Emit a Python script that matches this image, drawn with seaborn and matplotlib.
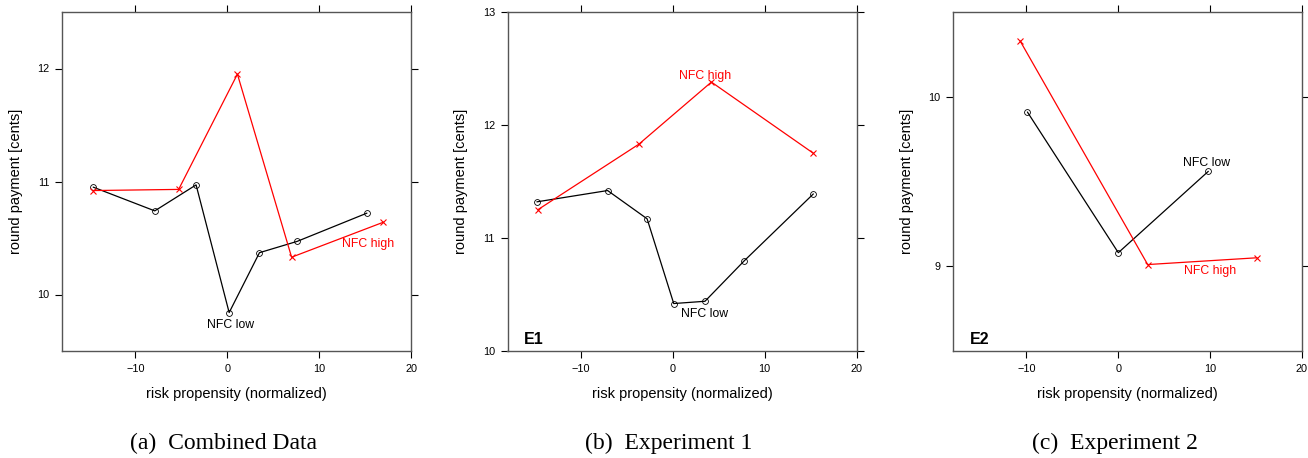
"""Round payment vs. risk propensity, split by NFC group (three panels)."""

import matplotlib
matplotlib.use("Agg")
import matplotlib.pyplot as plt
import pandas as pd
import seaborn as sns

# ---- data ----------------------------------------------------------------
# (a) combined data
comb_low_x = [-14.6, -7.9, -3.4, 0.2, 3.5, 7.6, 15.2]
comb_low_y = [10.95, 10.74, 10.97, 9.84, 10.37, 10.47, 10.72]
comb_high_x = [-14.6, -5.3, 1.1, 7.0, 17.0]
comb_high_y = [10.92, 10.93, 11.95, 10.33, 10.64]

# (b) experiment 1
e1_low_x = [-14.8, -7.1, -2.8, 0.1, 3.5, 7.8, 15.3]
e1_low_y = [11.32, 11.42, 11.17, 10.42, 10.44, 10.80, 11.39]
e1_high_x = [-14.7, -3.7, 4.2, 15.3]
e1_high_y = [11.25, 11.83, 12.38, 11.75]

# (c) experiment 2
e2_low_x = [-9.9, 0.0, 9.8]
e2_low_y = [9.91, 9.08, 9.56]
e2_high_x = [-10.7, 3.2, 15.1]
e2_high_y = [10.33, 9.01, 9.05]

captions = ["(a)\u2002Combined Data", "(b)\u2002Experiment 1", "(c)\u2002Experiment 2"]
corner_tags = [None, "E1", "E2"]

sns.set_style("white")
plt.rcParams["font.family"] = ["Liberation Sans", "DejaVu Sans"]
plt.rcParams.update({
    "text.color": "black",
    "axes.labelcolor": "black",
    "xtick.color": "black",
    "ytick.color": "black",
})

fig = plt.figure(figsize=(13.08, 4.58), dpi=100)
W, H = 1308.0, 458.0

panels = [
    dict(left=62, low=(comb_low_x, comb_low_y), high=(comb_high_x, comb_high_y),
         ylim=(9.5, 12.5), yticks=[10, 11, 12],
         high_lab=(15.3, 10.45), low_lab=(0.4, 9.73)),
    dict(left=507.5, low=(e1_low_x, e1_low_y), high=(e1_high_x, e1_high_y),
         ylim=(10, 13), yticks=[10, 11, 12, 13],
         high_lab=(3.5, 12.43), low_lab=(3.5, 10.33)),
    dict(left=953, low=(e2_low_x, e2_low_y), high=(e2_high_x, e2_high_y),
         ylim=(8.5, 10.5), yticks=[9, 10],
         high_lab=(10.0, 8.97), low_lab=(9.6, 9.61)),
]

box_w, box_h, box_top = 349, 339, 12

for i, p in enumerate(panels):
    ax = fig.add_axes([p["left"] / W, 1 - (box_top + box_h) / H, box_w / W, box_h / H])

    low = pd.DataFrame({"x": p["low"][0], "y": p["low"][1]})
    high = pd.DataFrame({"x": p["high"][0], "y": p["high"][1]})
    sns.lineplot(data=low, x="x", y="y", ax=ax, sort=False, color="black",
                 linewidth=0.9, marker="o", markersize=4.2, markerfacecolor="none",
                 markeredgecolor="black", markeredgewidth=0.6)
    sns.lineplot(data=high, x="x", y="y", ax=ax, sort=False, color="#ff0000",
                 linewidth=0.9, marker="x", markersize=4, markeredgecolor="#ff0000",
                 markeredgewidth=0.8)

    ax.set_xlim(-18, 20)
    ax.set_ylim(*p["ylim"])
    ax.set_xticks([-10, 0, 10, 20])
    ax.set_xticklabels(["\u221210", "0", "10", "20"])
    ax.set_yticks(p["yticks"])

    ax.text(*p["high_lab"], "NFC high", color="#ff0000", fontsize=8.8,
            ha="center", va="center")
    ax.text(*p["low_lab"], "NFC low", color="black", fontsize=8.8,
            ha="center", va="center")
    if corner_tags[i]:
        ax.text(0.047, 0.033, corner_tags[i], transform=ax.transAxes,
                fontsize=11.5, fontweight="bold", ha="left", va="center")

    for sp in ax.spines.values():
        sp.set_visible(True)
        sp.set_color("#555555")
        sp.set_linewidth(1.0)
    ax.tick_params(axis="both", direction="out", length=5, width=0.8,
                   color="black", labelsize=7.8, pad=4,
                   top=True, right=True, bottom=True, left=True,
                   labeltop=False, labelright=False)

    ax.set_xlabel("risk propensity (normalized)", fontsize=10.5)
    ax.set_ylabel("round payment [cents]", fontsize=10.5)
    ax.xaxis.set_label_coords(0.5, -0.105)
    ax.yaxis.set_label_coords(-0.112, 0.5)

    cx = (p["left"] + box_w / 2 - 13) / W
    fig.text(cx, 1 - 443 / H, captions[i], family="Liberation Serif",
             fontsize=17, ha="center", va="center")

fig.savefig("out.png", dpi=100)
plt.close(fig)
